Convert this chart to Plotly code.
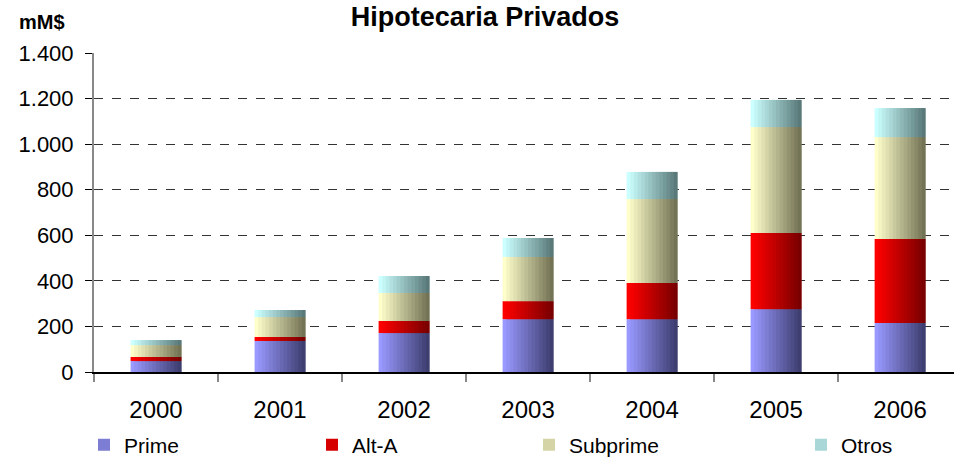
import plotly.graph_objects as go

years = ["2000", "2001", "2002", "2003", "2004", "2005", "2006"]
prime = [48, 136, 171, 232, 232, 276, 215]
alt_a = [18, 18, 53, 79, 159, 334, 369]
subprime = [52, 87, 123, 194, 368, 465, 447]
otros = [22, 31, 74, 83, 119, 119, 127]

series_names = ["Prime", "Alt-A", "Subprime", "Otros"]
series_values = [prime, alt_a, subprime, otros]
# (light left colour, dark right colour)
series_colors = [
    ((153, 153, 255), (62, 62, 112)),
    ((255, 0, 0), (122, 0, 0)),
    ((255, 255, 204), (115, 115, 85)),
    ((204, 255, 255), (90, 122, 122)),
]
legend_x_px = [84, 312, 529, 801]

N = 14
W = 0.41
FONT = "Arial, Liberation Sans, sans-serif"

fig = go.Figure()
bases = [0] * len(years)
for k, (name, vals, (c0, c1)) in enumerate(zip(series_names, series_values, series_colors)):
    lg = "legend" if k == 0 else "legend%d" % (k + 1)
    for i in range(N):
        t = i / (N - 1)
        col = tuple(round(a + (b - a) * t) for a, b in zip(c0, c1))
        sw = W / N * (2 if i < N - 1 else 1)
        fig.add_trace(go.Bar(
            x=years, y=vals, base=bases,
            width=sw, offset=-W / 2 + i * W / N,
            marker=dict(color="rgb(%d,%d,%d)" % col, line=dict(width=0)),
            name=name, legendgroup=name, legend=lg,
            showlegend=(i == N // 3),
        ))
    bases = [b + v for b, v in zip(bases, vals)]

legend_common = dict(orientation="h", xref="container", yref="container",
                     xanchor="left", y=19 / 464, yanchor="middle",
                     font=dict(size=21, family=FONT), itemsizing="constant",
                     bgcolor="rgba(0,0,0,0)", tracegroupgap=0)
legends = {}
for k, lx in enumerate(legend_x_px):
    key = "legend" if k == 0 else "legend%d" % (k + 1)
    legends[key] = dict(legend_common, x=lx / 954)

fig.update_layout(
    width=954, height=464,
    barmode="overlay",
    separators=",.",
    plot_bgcolor="white", paper_bgcolor="white",
    margin=dict(l=94, r=0, t=53, b=92, autoexpand=False),
    font=dict(family=FONT, color="black"),
    title=dict(text="<b>Hipotecaria Privados</b>", font=dict(size=27, family=FONT),
               x=485 / 954, xanchor="center", xref="container",
               y=(464 - 17) / 464, yanchor="middle", yref="container"),
    showlegend=True,
    xaxis=dict(type="category", range=[-0.5, 6.435], automargin=False,
               showline=True, linecolor="black", linewidth=2,
               ticks="outside", tickson="boundaries", ticklen=8, tickcolor="#888888", tickwidth=2,
               showgrid=False, tickfont=dict(size=24), ticklabelstandoff=15),
    yaxis=dict(range=[0, 1400], tickvals=[0, 200, 400, 600, 800, 1000, 1200, 1400],
               tickformat=",d", automargin=False,
               showline=True, linecolor="#888888", linewidth=2,
               ticks="outside", ticklen=7, tickcolor="black", tickwidth=1,
               showgrid=True, gridcolor="#333333", griddash="dash", gridwidth=1,
               zeroline=False, tickfont=dict(size=22), ticklabelstandoff=7),
    annotations=[dict(text="<b>mM$</b>", x=(42 - 94) / 860, y=(372 - 22) / 319,
                      xref="paper", yref="paper", showarrow=False,
                      xanchor="center", yanchor="middle", font=dict(size=20, family=FONT))],
    **legends,
)

fig.write_html("out.html", config={"displayModeBar": False},
               post_script="document.body.style.margin='0';")
